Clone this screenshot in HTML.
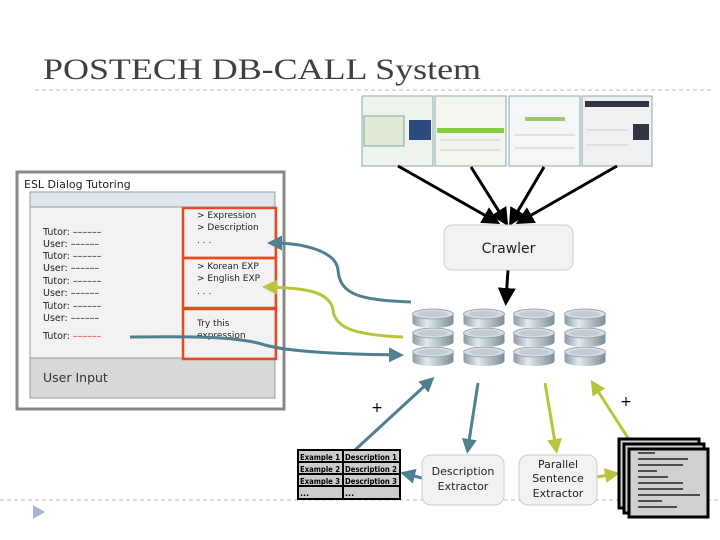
<!DOCTYPE html>
<html><head><meta charset="utf-8"><style>
body{margin:0;background:#fff}
svg{display:block}
text{font-family:"DejaVu Sans","Liberation Sans",sans-serif}
</style></head><body>
<svg width="720" height="540" viewBox="0 0 720 540" xmlns="http://www.w3.org/2000/svg">
<defs>
<linearGradient id="dg" x1="0" x2="1"><stop offset="0" stop-color="#8a9aa4"/><stop offset="0.35" stop-color="#e4eaee"/><stop offset="1" stop-color="#7c8c96"/></linearGradient>
<marker id="ab" markerWidth="6" markerHeight="6" refX="4" refY="3" orient="auto" markerUnits="strokeWidth"><path d="M0,0L6,3L0,6z" fill="#000"/></marker>
<marker id="at" markerWidth="5" markerHeight="5" refX="3" refY="2.5" orient="auto" markerUnits="strokeWidth"><path d="M0,0L5,2.5L0,5z" fill="#4e8090"/></marker>
<marker id="ag" markerWidth="5" markerHeight="5" refX="3" refY="2.5" orient="auto" markerUnits="strokeWidth"><path d="M0,0L5,2.5L0,5z" fill="#b8c43a"/></marker>
<g id="disc">
<ellipse cx="21" cy="14" rx="20.5" ry="5" fill="url(#dg)"/><rect x="0.5" y="5" width="41" height="9" fill="url(#dg)"/><ellipse cx="21" cy="5" rx="20.5" ry="5" fill="#d4dce1" stroke="#8a9aa4" stroke-width="0.8"/><ellipse cx="21" cy="5" rx="15" ry="3" fill="#c3ccd2"/>
</g>
<g id="cyl">
<use href="#disc" y="39"/><use href="#disc" y="20"/><use href="#disc" y="1"/>
</g>
</defs>
<text x="43" y="79" font-size="30" fill="#404040" textLength="438" lengthAdjust="spacingAndGlyphs" style="font-family:'Liberation Serif',serif">POSTECH DB-CALL System</text>
<line x1="35" y1="90" x2="712" y2="90" stroke="#bbb" stroke-dasharray="4,3"/>
<line x1="0" y1="500" x2="720" y2="500" stroke="#bbb" stroke-dasharray="4,3"/>
<path d="M33,505 L45,512 L33,519z" fill="#a8b4d0"/>
<g stroke="#8aa" stroke-width="1">
<rect x="362" y="96" width="71" height="70" fill="#eef3ee"/>
<rect x="435" y="96" width="71" height="70" fill="#f2f6ef"/>
<rect x="509" y="96" width="71" height="70" fill="#f4f6f8"/>
<rect x="582" y="96" width="70" height="70" fill="#eef0f2"/>
</g>
<rect x="364" y="116" width="40" height="30" fill="#dfe9d5" stroke="#7a9" />
<rect x="409" y="120" width="22" height="20" fill="#2a4a80"/>
<rect x="437" y="128" width="67" height="5" fill="#8c4"/>
<rect x="525" y="117" width="40" height="4" fill="#9c6"/>
<rect x="585" y="101" width="64" height="6" fill="#334"/>
<rect x="633" y="124" width="16" height="16" fill="#334"/>
<g stroke="#ccc" stroke-width="1"><line x1="440" y1="140" x2="500" y2="140"/><line x1="440" y1="150" x2="500" y2="150"/><line x1="515" y1="135" x2="575" y2="135"/><line x1="515" y1="148" x2="575" y2="148"/><line x1="587" y1="130" x2="628" y2="130"/><line x1="587" y1="145" x2="628" y2="145"/></g>
<g stroke="#000" stroke-width="3" marker-end="url(#ab)">
<line x1="398" y1="166" x2="495" y2="221"/>
<line x1="471" y1="167" x2="505" y2="221"/>
<line x1="544" y1="167" x2="512" y2="221"/>
<line x1="617" y1="166" x2="521" y2="221"/>
<line x1="508" y1="270" x2="506" y2="300"/>
</g>
<rect x="444" y="225" width="129" height="45" rx="8" fill="#f2f2f2" stroke="#ccc"/>
<text x="508.5" y="253" font-size="14" text-anchor="middle" fill="#222">Crawler</text>
<use href="#cyl" x="412" y="308"/><use href="#cyl" x="463" y="308"/><use href="#cyl" x="513" y="308"/><use href="#cyl" x="564" y="308"/>
<rect x="17" y="172" width="267" height="237" fill="#fff" stroke="#888" stroke-width="3"/>
<text x="24" y="188" font-size="11" fill="#222">ESL Dialog Tutoring</text>
<rect x="30" y="192" width="245" height="206" fill="#f2f2f2" stroke="#999"/>
<rect x="30" y="192" width="245" height="15" fill="#dde6ec" stroke="#999"/>
<rect x="30" y="358" width="245" height="40" fill="#d8d8d8" stroke="#999"/>
<text x="43" y="382" font-size="12.5" fill="#333">User Input</text>
<g font-size="9.5" fill="#222">
<text x="43" y="235">Tutor: ––––––</text><text x="43" y="247">User: ––––––</text>
<text x="43" y="259">Tutor: ––––––</text><text x="43" y="271">User: ––––––</text>
<text x="43" y="284">Tutor: ––––––</text><text x="43" y="296">User: ––––––</text>
<text x="43" y="309">Tutor: ––––––</text><text x="43" y="321">User: ––––––</text>
<text x="43" y="339">Tutor: <tspan fill="#e03020">––––––</tspan></text>
</g>
<g fill="none" stroke="#e84a20" stroke-width="2.5">
<rect x="183" y="208" width="93" height="50"/><rect x="183" y="258" width="93" height="50"/><rect x="183" y="309" width="93" height="50"/>
</g>
<g font-size="9" fill="#222">
<text x="197" y="218">&gt; Expression</text><text x="197" y="230">&gt; Description</text><text x="197" y="243">. . .</text>
<text x="197" y="269">&gt; Korean EXP</text><text x="197" y="281">&gt; English EXP</text><text x="197" y="294">. . .</text>
<text x="197" y="326">Try this</text><text x="197" y="338">expression</text>
</g>
<path d="M411,302 C360,300 340,295 338,270 C336,250 300,243 273,243" fill="none" stroke="#4e8090" stroke-width="3" marker-end="url(#at)"/>
<path d="M403,337 C360,335 335,330 333,310 C330,290 300,288 268,287" fill="none" stroke="#b8c43a" stroke-width="3" marker-end="url(#ag)"/>
<path d="M130,337 C200,336 240,337 265,345 C290,352 340,354 398,355" fill="none" stroke="#4e8090" stroke-width="3" marker-end="url(#at)"/>
<line x1="355" y1="450" x2="430" y2="381" stroke="#4e8090" stroke-width="3" marker-end="url(#at)"/>
<line x1="478" y1="383" x2="468" y2="448" stroke="#4e8090" stroke-width="3" marker-end="url(#at)"/>
<line x1="545" y1="383" x2="556" y2="448" stroke="#b8c43a" stroke-width="3" marker-end="url(#ag)"/>
<line x1="628" y1="438" x2="594" y2="385" stroke="#b8c43a" stroke-width="3" marker-end="url(#ag)"/>
<line x1="422" y1="478" x2="406" y2="474" stroke="#4e8090" stroke-width="3" marker-end="url(#at)"/>
<line x1="597" y1="477" x2="614" y2="474" stroke="#b8c43a" stroke-width="3" marker-end="url(#ag)"/>
<text x="377" y="412" font-size="14" text-anchor="middle">+</text>
<text x="626" y="406" font-size="14" text-anchor="middle">+</text>
<g stroke="#000" stroke-width="2" fill="#ccc">
<rect x="298" y="450" width="45" height="12"/><rect x="343" y="450" width="57" height="12"/>
<rect x="298" y="462" width="45" height="12"/><rect x="343" y="462" width="57" height="12"/>
<rect x="298" y="474" width="45" height="12"/><rect x="343" y="474" width="57" height="12"/>
<rect x="298" y="486" width="45" height="13"/><rect x="343" y="486" width="57" height="13"/>
</g>
<g font-size="8" font-weight="bold" fill="#000" style="font-family:'Liberation Serif',serif">
<text x="300" y="460" textLength="40" lengthAdjust="spacingAndGlyphs">Example 1</text><text x="345" y="460" textLength="52" lengthAdjust="spacingAndGlyphs">Description 1</text>
<text x="300" y="472" textLength="40" lengthAdjust="spacingAndGlyphs">Example 2</text><text x="345" y="472" textLength="52" lengthAdjust="spacingAndGlyphs">Description 2</text>
<text x="300" y="484" textLength="40" lengthAdjust="spacingAndGlyphs">Example 3</text><text x="345" y="484" textLength="52" lengthAdjust="spacingAndGlyphs">Description 3</text>
<text x="300" y="496">...</text><text x="345" y="496">...</text>
</g>
<rect x="422" y="455" width="82" height="50" rx="9" fill="#f2f2f2" stroke="#ccc"/>
<text x="463" y="475" font-size="11" text-anchor="middle" fill="#222">Description</text>
<text x="463" y="490" font-size="11" text-anchor="middle" fill="#222">Extractor</text>
<rect x="519" y="455" width="78" height="50" rx="9" fill="#f2f2f2" stroke="#ccc"/>
<text x="558" y="468" font-size="11" text-anchor="middle" fill="#222">Parallel</text>
<text x="558" y="482" font-size="11" text-anchor="middle" fill="#222">Sentence</text>
<text x="558" y="497" font-size="11" text-anchor="middle" fill="#222">Extractor</text>
<g stroke="#000" stroke-width="3" fill="#d0d0d0">
<rect x="619" y="439" width="80" height="69"/><rect x="624" y="444" width="80" height="69"/><rect x="629" y="449" width="79" height="68"/>
</g>
<g stroke="#000" stroke-width="1.2">
<line x1="638" y1="453" x2="655" y2="453"/><line x1="638" y1="459" x2="688" y2="459"/><line x1="638" y1="465" x2="683" y2="465"/>
<line x1="638" y1="471" x2="657" y2="471"/><line x1="638" y1="477" x2="668" y2="477"/><line x1="638" y1="483" x2="683" y2="483"/>
<line x1="638" y1="489" x2="683" y2="489"/><line x1="638" y1="495" x2="700" y2="495"/><line x1="638" y1="501" x2="662" y2="501"/><line x1="638" y1="507" x2="677" y2="507"/>
</g>
</svg>
</body></html>
